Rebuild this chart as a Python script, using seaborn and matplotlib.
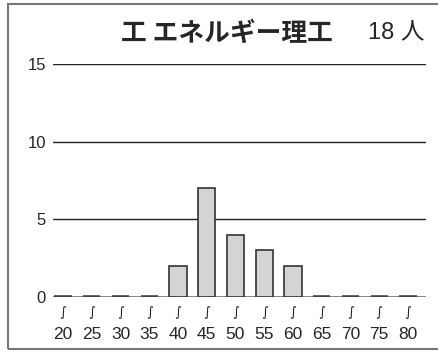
import matplotlib
matplotlib.use("Agg")
import matplotlib.pyplot as plt
import matplotlib.patches as patches
import matplotlib.transforms as mtransforms
import seaborn as sns
import pandas as pd

# 年齢区分ごとの人数
ages = [20, 25, 30, 35, 40, 45, 50, 55, 60, 65, 70, 75, 80]
counts = [0, 0, 0, 0, 2, 7, 4, 3, 2, 0, 0, 0, 0]
title = "工 エネルギー理工"
total_label = "18 人"
yticks = [0, 5, 10, 15]

sns.set_style("white")
plt.rcParams['font.family'] = ['Noto Sans CJK JP', 'DejaVu Sans']

df = pd.DataFrame({"age": [str(a) for a in ages], "count": counts})

fig = plt.figure(figsize=(4.39, 3.52), dpi=100)
ax = fig.add_axes([53 / 439, 1 - 297 / 352, (426 - 53) / 439, (297 - 64) / 352])

# 横線（目盛り線）
for v in yticks[1:]:
    ax.axhline(v, color="#222222", lw=1.0, zorder=0)
ax.axhline(0, color="#888888", lw=2.2, zorder=1)

sns.barplot(data=df, x="age", y="count", color="#d4d4d6", width=0.6,
            edgecolor="#333333", linewidth=1.2, saturation=1, ax=ax, zorder=2)
# 0人の区分は太い線で表示
for i, c in enumerate(counts):
    if c == 0:
        ax.plot([i - 0.3, i + 0.3], [0, 0], color="#444444", lw=2.6,
                solid_capstyle="butt", zorder=3)

ax.set_xlim(-0.35, 12.63)
ax.set_ylim(0, 15)
ax.set_yticks(yticks)
ax.set_yticklabels([str(v) for v in yticks], fontsize=12, family="Liberation Sans")
ax.set_xticks(range(len(ages)))
ax.set_xticklabels([str(a) for a in ages], fontsize=12.5, family="Liberation Sans")
ax.tick_params(axis="y", length=0, pad=5)
ax.tick_params(axis="x", length=0, pad=21.5)
ax.set_xlabel("")
ax.set_ylabel("")
for s in ax.spines.values():
    s.set_visible(False)

# 区切りの波線
trans = mtransforms.blended_transform_factory(ax.transData, fig.transFigure)
for i in range(len(ages)):
    ax.text(i, 1 - 313 / 352, "∫", transform=trans, fontsize=9.5,
            family="DejaVu Sans", ha="center", va="center", color="#222222")

fig.text(227 / 439, 1 - 33 / 352, title, fontsize=18.5, fontweight="bold",
         ha="center", va="center")
fig.text(396 / 439, 1 - 32 / 352, total_label, fontsize=17,
         family=["Liberation Sans", "Noto Sans CJK JP"],
         ha="center", va="center")

# 外枠
fig.patches.append(patches.Rectangle((8 / 439, 3 / 352), 1.0, 1 - 7 / 352,
                                     transform=fig.transFigure, fill=False,
                                     edgecolor="#777777", lw=1.5))

fig.savefig("out.png", dpi=100)
